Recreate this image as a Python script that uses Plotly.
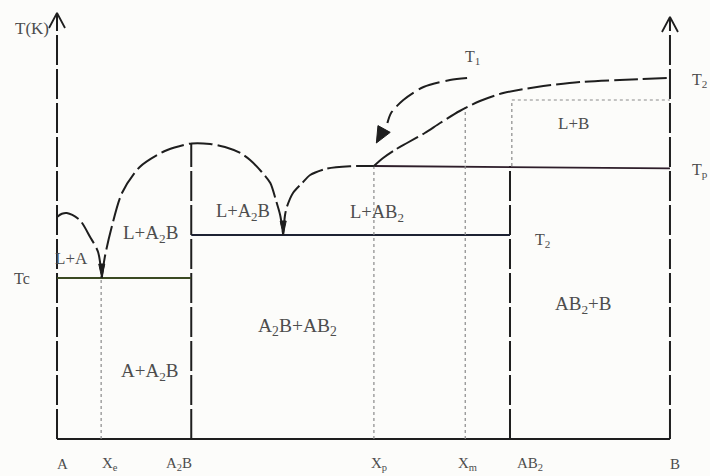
import math
import plotly.graph_objects as go

# ---- phase-diagram data (composition: A = 0 ... B = 100, temperature in arbitrary units) ----
comp_labels = ["A", "X<sub>e</sub>", "A<sub>2</sub>B", "X<sub>p</sub>", "X<sub>m</sub>", "AB<sub>2</sub>", "B"]
comp_values = [0.0, 7.2, 21.9, 51.7, 66.6, 73.9, 100.0]
x_A, x_Xe, x_A2B, x_Xp, x_Xm, x_AB2, x_B = comp_values
x_eut2 = 36.9          # A2B + AB2 eutectic composition

T_c = 40.25            # eutectic A + A2B
T_2 = 51.0             # eutectic A2B + AB2
T_p = 68.25            # peritectic of AB2
T_B = 90.25            # melting point of B
T_LB = 84.75           # dotted L+B level
T_Xm = 83.0            # top of the X_m isopleth

# liquidus of A (left of X_e)
liq_A_x = [0.0, 0.8, 1.6, 3.7, 5.4, 6.7, 7.3]
liq_A_T = [55.5, 56.3, 56.5, 54.75, 50.5, 46.75, 40.25]

# liquidus of A2B (dome between the two eutectics)
liq_A2B_x = [7.3, 7.8, 8.8, 10.6, 13.5, 17.6, 20.1, 22.0, 25.0, 27.4, 29.9, 31.5, 33.4, 34.8, 35.7, 36.4, 36.9]
liq_A2B_T = [40.25, 45.5, 52.25, 61.5, 68.0, 72.0, 73.25, 73.9, 73.75, 73.0, 71.5, 69.75, 66.75, 64.0, 59.75, 56.0, 51.0]

# liquidus of AB2 (eutectic up to the peritectic point)
liq_AB2_x = [36.9, 37.2, 37.5, 38.5, 40.0, 41.3, 44.0, 47.8, 51.7]
liq_AB2_T = [51.0, 56.0, 58.0, 61.5, 64.0, 66.0, 67.6, 68.2, 68.25]

# liquidus of B (peritectic up to T_B)
liq_B_x = [51.7, 53.2, 55.1, 57.1, 60.0, 62.5, 65.7, 69.0, 72.8, 78.3, 85.3, 91.8, 100.0]
liq_B_T = [68.25, 70.25, 72.25, 74.0, 76.5, 79.0, 82.0, 84.5, 86.5, 88.0, 89.25, 89.75, 90.25]

# cooling path arrow T1
path_x = [66.9, 64.1, 59.8, 56.5, 54.5, 53.9]
path_T = [90.25, 89.75, 88.0, 84.75, 81.5, 79.0]
path_tip = (52.1, 74.0)

T_axis_top = 106.5

# ---- drawing ----
W, H = 710, 476
x_range = [-9.30, 106.53]
y_range = [-9.25, 109.75]
SX = W / (x_range[1] - x_range[0])   # px per composition unit
SY = H / (y_range[1] - y_range[0])   # px per temperature unit

INK = "#1e1e1e"
TXT = "#4d4d4d"
DOT = "#8a8a8a"
AXIS_DASH = "30px,4px"
CURVE_DASH = "24px,5px"

fig = go.Figure()


def seg(xs, ys, color=INK, width=2.0, dash="solid", shape="linear"):
    fig.add_trace(go.Scatter(x=xs, y=ys, mode="lines", hoverinfo="skip",
                             line=dict(color=color, width=width, dash=dash, shape=shape,
                                       smoothing=0.8)))


# composition axes and compound lines
seg([x_A, x_A], [0, T_axis_top], dash=AXIS_DASH)
seg([x_B, x_B], [0, T_axis_top - 1], dash=AXIS_DASH)
seg([x_A, x_B], [0, 0], width=2.2)
seg([x_A2B, x_A2B], [0, 73.9], dash=AXIS_DASH)
seg([x_AB2, x_AB2], [0, T_p], dash=AXIS_DASH)

# axis arrowheads (open chevrons)
for xa, ta in [(x_A, T_axis_top), (x_B, T_axis_top - 1)]:
    dx, dt = 8 / SX, 15 / SY
    seg([xa - dx, xa, xa + dx], [ta - dt, ta, ta - dt], width=1.8)

# isotherms
seg([x_A, x_A2B], [T_c, T_c], color="#3b4a22", width=1.8)
seg([x_A2B, x_AB2], [T_2, T_2], color="#1d2233", width=2.0)
seg([x_Xp, x_B], [T_p, T_p - 0.6], color="#2e1e2a", width=1.8)

# isopleths and the L+B box (dotted)
seg([x_Xe, x_Xe], [0, T_c], color=DOT, width=1.2, dash="dot")
seg([x_Xp, x_Xp], [0, T_p], color=DOT, width=1.2, dash="dot")
seg([x_Xm, x_Xm], [0, T_Xm], color=DOT, width=1.2, dash="dot")
seg([x_AB2 + 0.3, x_B], [T_LB, T_LB], color=DOT, width=1.2, dash="dot")
seg([x_AB2 + 0.3, x_AB2 + 0.3], [T_p, T_LB], color=DOT, width=1.2, dash="dot")

# liquidus curves
seg(liq_A_x, liq_A_T, dash=CURVE_DASH, shape="spline")
seg(liq_A2B_x, liq_A2B_T, dash=CURVE_DASH, shape="spline")
seg(liq_AB2_x, liq_AB2_T, dash=CURVE_DASH, shape="spline")
seg(liq_B_x, liq_B_T, dash=CURVE_DASH, shape="spline")

# eutectic notches
for xe, te in [(x_Xe + 0.1, T_c), (x_eut2, T_2)]:
    fig.add_trace(go.Scatter(
        x=[xe - 3 / SX, xe + 3 / SX, xe, xe - 3 / SX],
        y=[te + 14 / SY, te + 14 / SY, te, te + 14 / SY],
        mode="lines", fill="toself", fillcolor=INK, line=dict(color=INK, width=1),
        hoverinfo="skip"))

# cooling path T1 with a filled arrowhead
seg(path_x, path_T, dash="22px,6px", shape="spline")
bx, bt = path_x[-1], path_T[-1]
tx, tt = path_tip
ux, uy = (tx - bx) * SX, (tt - bt) * SY
n = math.hypot(ux, uy)
ux, uy = ux / n, uy / n
L, Wd = 16, 7
base_x, base_y = tx * SX - ux * L, tt * SY - uy * L
p1 = ((base_x - uy * Wd) / SX, (base_y + ux * Wd) / SY)
p2 = ((base_x + uy * Wd) / SX, (base_y - ux * Wd) / SY)
fig.add_trace(go.Scatter(
    x=[p1[0], tx, p2[0], p1[0]], y=[p1[1], tt, p2[1], p1[1]],
    mode="lines", fill="toself", fillcolor=INK, line=dict(color=INK, width=1),
    hoverinfo="skip"))

# ---- text ----
SERIF = "Liberation Serif, Times New Roman, serif"


def label(text, x, y, size=18, xanchor="center", xshift=0):
    fig.add_annotation(x=x, y=y, text=text, showarrow=False, xanchor=xanchor,
                       yanchor="middle", xshift=xshift,
                       font=dict(family=SERIF, size=size, color=TXT))


# composition labels under the baseline
shifts = [5, 9, -12, 5, 2, 20, 5]
for name, xv, sh in zip(comp_labels, comp_values, shifts):
    label(name, xv, -6.25, size=15, xshift=sh)

label("T(K)", -4.1, 102.75, size=17)
label("Tc", -5.7, T_c, size=16)
label("T<sub>1</sub>", 67.8, 95.5, size=16)
label("T<sub>2</sub>", 103.3, T_B - 0.5, size=16, xanchor="left")
label("T<sub>p</sub>", 103.3, T_p - 1, size=16, xanchor="left")
label("T<sub>2</sub>", 79.2, 49.75, size=16)

label("L+A", 2.4, 45.25, size=17)
label("L+A<sub>2</sub>B", 15.2, 51.25, size=19)
label("A+A<sub>2</sub>B", 15.2, 16.75, size=19)
label("L+A<sub>2</sub>B", 30.3, 56.75, size=18.5)
label("L+AB<sub>2</sub>", 52.2, 56.5, size=18.5)
label("A<sub>2</sub>B+AB<sub>2</sub>", 39.3, 28.0, size=19.5)
label("L+B", 84.2, 79.0, size=17)
label("AB<sub>2</sub>+B", 85.8, 33.5, size=19)

fig.update_layout(
    width=W, height=H, margin=dict(l=0, r=0, t=0, b=0),
    showlegend=False, paper_bgcolor="#fcfcfa", plot_bgcolor="#fcfcfa",
    xaxis=dict(range=x_range, visible=False, fixedrange=True),
    yaxis=dict(range=y_range, visible=False, fixedrange=True),
)

fig.write_html("out.html")
